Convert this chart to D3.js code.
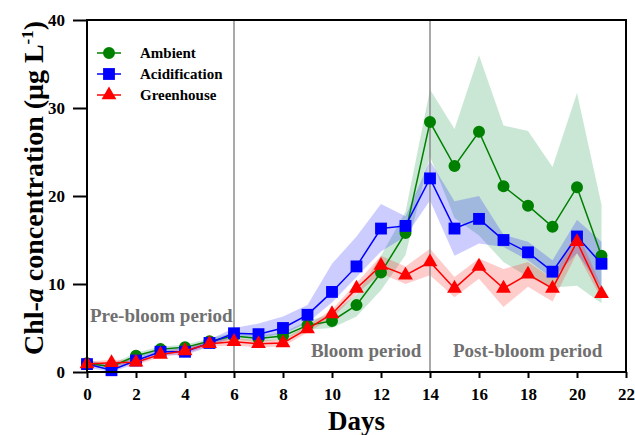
<!DOCTYPE html>
<html>
<head>
<meta charset="utf-8">
<script src="https://cdn.jsdelivr.net/npm/d3@7"></script>
<style>
  body { margin: 0; background: #fff; }
  svg text { font-family: "Liberation Serif", "Times New Roman", serif; font-weight: bold; }
</style>
</head>
<body>
<svg id="chart" width="635" height="435"></svg>
<script>
// data
var days = d3.range(0, 22);

var ambient      = [1.0, 0.6, 1.85, 2.6, 2.8, 3.5, 4.1, 3.8, 4.1, 5.3, 5.8, 7.6, 11.3, 15.8, 28.4, 23.4, 27.3, 21.1, 18.9, 16.5, 21.0, 13.2];
var ambientLo    = [0.7, 0.3, 1.5, 2.3, 2.5, 3.2, 3.7, 3.4, 3.7, 4.8, 5.0, 6.3, 9.3, 13.3, 24.5, 17.5, 15.5, 12.5, 10.8, 9.6, 9.8, 7.8];
var ambientHi    = [1.3, 0.9, 2.2, 2.9, 3.1, 3.8, 4.5, 4.2, 4.5, 5.8, 6.6, 8.8, 13.2, 18.2, 32.1, 27.6, 36.0, 28.0, 27.4, 23.3, 31.7, 19.0];

var acid         = [0.9, 0.2, 1.3, 2.3, 2.3, 3.3, 4.4, 4.3, 5.0, 6.5, 9.1, 12.0, 16.3, 16.6, 22.0, 16.3, 17.4, 15.0, 13.6, 11.4, 15.4, 12.3];
var acidLo       = [0.5, 0.0, 0.9, 1.9, 1.9, 2.9, 4.0, 3.9, 4.3, 5.6, 7.9, 10.8, 13.7, 15.4, 19.5, 13.2, 14.6, 14.2, 12.7, 10.6, 13.5, 9.5];
var acidHi       = [1.3, 0.7, 1.7, 2.7, 2.7, 3.7, 5.0, 5.5, 6.3, 7.6, 12.3, 15.4, 19.1, 17.7, 24.0, 19.4, 20.0, 15.6, 14.8, 12.7, 17.3, 14.8];

var greenhouse   = [0.9, 1.05, 1.1, 2.0, 2.4, 3.2, 3.45, 3.2, 3.3, 4.9, 6.6, 9.5, 12.1, 11.0, 12.5, 9.5, 12.0, 9.5, 11.1, 9.5, 14.8, 8.9];
var greenhouseLo = [0.6, 0.7, 0.8, 1.7, 2.1, 2.9, 3.0, 2.8, 2.9, 4.5, 6.1, 8.9, 11.2, 10.0, 11.0, 8.5, 10.6, 7.4, 9.7, 8.0, 13.5, 8.3];
var greenhouseHi = [1.2, 1.4, 1.4, 2.3, 2.7, 3.5, 3.9, 3.6, 3.7, 5.3, 7.1, 10.1, 13.2, 12.0, 14.0, 10.8, 12.9, 11.7, 12.5, 10.6, 16.1, 9.7];

var xTicks = d3.range(0, 23, 2);
var yTicks = [0, 10, 20, 30, 40];

var periods = [
  { label: "Pre-bloom period", day: 0.12, value: 5.7 },
  { label: "Bloom period", day: 9.14, value: 1.7 },
  { label: "Post-bloom period", day: 14.94, value: 1.7 }
];
var dividers = [6, 14];

var series = [
  { name: "Ambient", values: ambient, lo: ambientLo, hi: ambientHi, color: "#008000", fill: "#2ca05a", shape: d3.symbolCircle, size: 113 },
  { name: "Acidification", values: acid, lo: acidLo, hi: acidHi, color: "#0000ff", fill: "#0000ff", shape: d3.symbolSquare, size: 140 },
  { name: "Greenhouse", values: greenhouse, lo: greenhouseLo, hi: greenhouseHi, color: "#ff0000", fill: "#ff0000", shape: d3.symbolTriangle, size: 95 }
];

var svg = d3.select("#chart");
var margin = { left: 87, right: 9, top: 20, bottom: 63 };
var width = 635 - margin.left - margin.right;
var height = 435 - margin.top - margin.bottom;

var x = d3.scaleLinear().domain([0, 22]).range([0, width]);
var y = d3.scaleLinear().domain([0, 40]).range([height, 0]);

var g = svg.append("g").attr("transform", "translate(" + margin.left + "," + margin.top + ")");

// bands
series.forEach(function(s) {
  var area = d3.area()
    .x(function(d) { return x(d); })
    .y0(function(d) { return y(s.lo[d]); })
    .y1(function(d) { return y(s.hi[d]); });
  g.append("path")
    .attr("d", area(days))
    .attr("fill", s.fill)
    .attr("fill-opacity", s.name == "Ambient" ? 0.25 : 0.2);
});

// period dividers
g.selectAll("line.divider").data(dividers).enter()
  .append("line")
  .attr("x1", function(d) { return x(d); })
  .attr("x2", function(d) { return x(d); })
  .attr("y1", 0).attr("y2", height)
  .attr("stroke", "#8c8c8c").attr("stroke-width", 1.5);

// period labels
g.selectAll("text.period").data(periods).enter()
  .append("text")
  .attr("x", function(d) { return x(d.day); })
  .attr("y", function(d) { return y(d.value); })
  .attr("fill", "#707070")
  .style("font-size", "19px")
  .text(function(d) { return d.label; });

// lines and markers
series.forEach(function(s) {
  var line = d3.line()
    .x(function(d) { return x(d); })
    .y(function(d) { return y(s.values[d]); });
  g.append("path")
    .attr("d", line(days))
    .attr("fill", "none")
    .attr("stroke", s.color)
    .attr("stroke-width", 1.5);
  g.selectAll(null).data(days).enter()
    .append("path")
    .attr("d", d3.symbol().type(s.shape).size(s.size))
    .attr("transform", function(d) { return "translate(" + x(d) + "," + y(s.values[d]) + ")"; })
    .attr("fill", s.color);
});

// axes
var xAxis = g.append("g")
  .attr("transform", "translate(0," + height + ")")
  .call(d3.axisBottom(x).tickValues(xTicks).tickSize(6).tickPadding(10));
var yAxis = g.append("g")
  .call(d3.axisLeft(y).tickValues(yTicks).tickSize(14).tickPadding(8));

[xAxis, yAxis].forEach(function(a) {
  a.select(".domain").remove();
  a.selectAll(".tick line").attr("stroke", "#000").attr("stroke-width", 2);
  a.selectAll(".tick text").attr("fill", "#000").style("font-size", "17px")
    .style("font-family", "'Liberation Serif', serif").style("font-weight", "bold");
});

// frame
g.append("rect")
  .attr("x", 0).attr("y", 0)
  .attr("width", width).attr("height", height)
  .attr("fill", "none").attr("stroke", "#000").attr("stroke-width", 2);

// axis titles
svg.append("text")
  .attr("x", margin.left + x(11))
  .attr("y", 430)
  .attr("text-anchor", "middle")
  .style("font-size", "27px")
  .text("Days");

var yTitle = svg.append("text")
  .attr("transform", "translate(43,188) rotate(-90)")
  .attr("text-anchor", "middle")
  .style("font-size", "28px");
yTitle.append("tspan").text("Chl-");
yTitle.append("tspan").style("font-style", "italic").text("a");
yTitle.append("tspan").text(" concentration (\u03bcg L");
yTitle.append("tspan").attr("dy", -10).style("font-size", "17px").text("-1");
yTitle.append("tspan").attr("dy", 10).text(")");

// legend
var legend = g.append("g").attr("transform", "translate(10,33)");
series.forEach(function(s, i) {
  var row = legend.append("g").attr("transform", "translate(0," + (i * 21) + ")");
  row.append("line").attr("x1", 0).attr("x2", 24).attr("stroke", s.color).attr("stroke-width", 1.5);
  row.append("path").attr("d", d3.symbol().type(s.shape).size(s.size)).attr("transform", "translate(12,0)").attr("fill", s.color);
  row.append("text").attr("x", 43).attr("y", 5).style("font-size", "15px").text(s.name);
});
</script>
</body>
</html>
